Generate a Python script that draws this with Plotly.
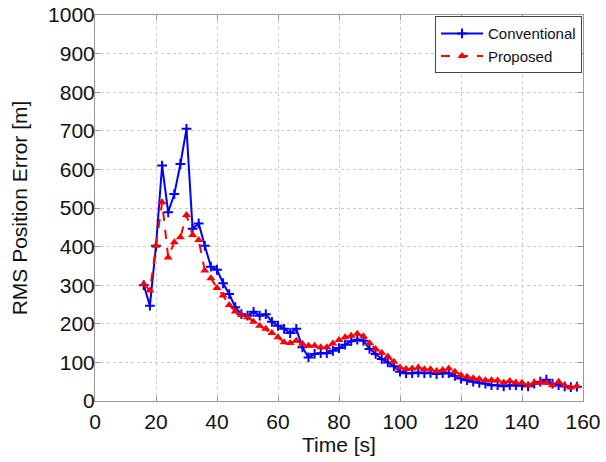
import plotly.graph_objects as go

time_s = list(range(16, 160, 2))
conventional = [300, 247, 402, 610, 489, 536, 614, 705, 446, 460,
                402, 348, 340, 305, 277, 243, 225, 221, 231, 221,
                225, 205, 195, 187, 176, 187, 139, 113, 122, 124,
                124, 130, 137, 146, 155, 159, 156, 135, 122, 109,
                100, 90, 76, 72, 72, 74, 72, 73, 70, 72,
                72, 65, 58, 54, 50, 47, 45, 41, 41, 38,
                41, 41, 40, 38, 45, 50, 55, 45, 41, 38,
                36, 37]
proposed = [303, 286, 402, 515, 372, 411, 424, 482, 430, 417,
            338, 318, 293, 273, 249, 232, 223, 217, 205, 195,
            187, 176, 165, 152, 150, 156, 148, 143, 143, 139,
            139, 149, 158, 165, 169, 174, 168, 150, 135, 125,
            115, 102, 87, 83, 84, 87, 82, 82, 78, 80,
            84, 76, 67, 63, 59, 57, 54, 54, 53, 48,
            52, 48, 47, 41, 47, 48, 47, 41, 50, 40,
            35, 38]

x_ticks = list(range(0, 161, 20))
y_ticks = list(range(0, 1001, 100))

fig = go.Figure()
fig.add_trace(go.Scatter(
    x=time_s, y=conventional, name="Conventional", mode="lines+markers",
    line=dict(color="#0000ff", width=2),
    marker=dict(symbol="cross-thin", size=7, color="#0000ff",
                line=dict(color="#0000ff", width=2)),
))
fig.add_trace(go.Scatter(
    x=time_s, y=proposed, name="Proposed", mode="lines+markers",
    line=dict(color="#ff0000", width=2, dash="dash"),
    marker=dict(symbol="triangle-up", size=8, color="#ff0000"),
))

font_family = "Liberation Sans, Arial, sans-serif"
axis_common = dict(
    showline=True, linecolor="#999999", linewidth=1, mirror="ticks",
    ticks="inside", ticklen=5, tickcolor="#999999",
    showgrid=True, gridcolor="#cccccc", griddash="dot", gridwidth=1,
    zeroline=False, automargin=False, ticklabeloverflow="allow",
    tickfont=dict(size=21, color="#111", family=font_family),
)
fig.update_xaxes(range=[0, 160], tickvals=x_ticks, ticklabelstandoff=2,
                 title=dict(text="Time [s]", font=dict(size=21, color="#111", family=font_family), standoff=0),
                 **axis_common)
fig.update_yaxes(range=[0, 1000], tickvals=y_ticks, ticklabelstandoff=-5,
                 title=dict(text="RMS Position Error [m]", font=dict(size=21, color="#111", family=font_family), standoff=14),
                 **axis_common)

fig.update_layout(
    width=606, height=462,
    margin=dict(l=95, r=23, t=15, b=61, autoexpand=False),
    paper_bgcolor="white", plot_bgcolor="white",
    font=dict(family=font_family, color="#111"),
    legend=dict(x=0.998, y=0.997, xanchor="right", yanchor="top",
                bgcolor="white", bordercolor="#444", borderwidth=1,
                font=dict(size=15, color="#111", family=font_family),
                tracegroupgap=0, itemwidth=42),
    showlegend=True,
)

# remove the default page margin so the figure fills the window exactly
fig.write_html("out.html", config={"displayModeBar": False},
               post_script="document.body.style.margin='0';")
